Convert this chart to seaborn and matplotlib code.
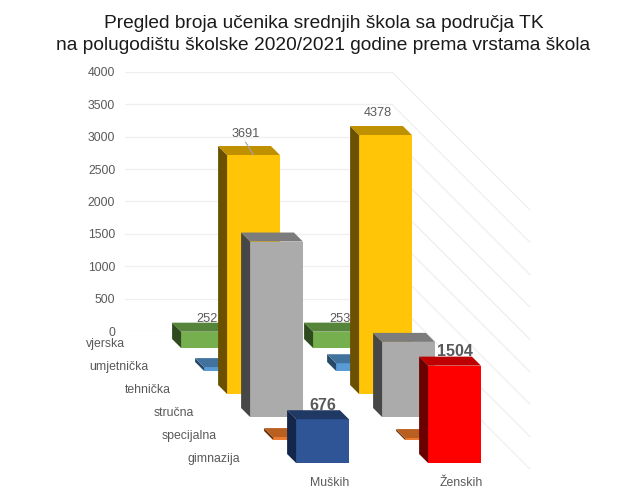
import matplotlib
matplotlib.use('Agg')
import matplotlib.pyplot as plt
import pandas as pd
import seaborn as sns
from matplotlib.lines import Line2D
from matplotlib.patches import Polygon

# values, rows go from the back to the front
groups = ['Muških', 'Ženskih']
categories = ['vjerska', 'umjetnička', 'tehnička', 'stručna', 'specijalna', 'gimnazija']
vjerska = [252, 253]
umjetnicka = [60, 120]
tehnicka = [3691, 4378]
strucna = [2710, 1160]
specijalna = [45, 30]
gimnazija = [676, 1504]
y_ticks = [0, 500, 1000, 1500, 2000, 2500, 3000, 3500, 4000]
title = 'Pregled broja učenika srednjih škola sa područja TK\nna polugodištu školske 2020/2021 godine prema vrstama škola'

# front / side / top colour per row and group
front_colors = [['#76B04E'] * 2, ['#5B9BD5'] * 2, ['#FFC506'] * 2, ['#ABABAB'] * 2, ['#ED7D31'] * 2, ['#2F5597', '#FF0000']]
side_colors = [['#2F4A1E'] * 2, ['#274A6B'] * 2, ['#6B5000'] * 2, ['#474747'] * 2, ['#6B3009'] * 2, ['#14264A', '#6B0000']]
top_colors = [['#56843A'] * 2, ['#41729E'] * 2, ['#BF9000'] * 2, ['#7C7C7C'] * 2, ['#B95F20'] * 2, ['#203864', '#BF0000']]
rows = [vjerska, umjetnicka, tehnicka, strucna, specijalna, gimnazija]

W, H = 627, 495
TEXT = '#595959'
GRID = '#EFEFEF'
ROW_STEP = 23   # px shift of a row towards the viewer
FIRST_ROW = 17
BAR_DEPTH = 9


def px_axes(fig, left, right, top, bottom, **kwargs):
    '''Axes from picture pixels (y measured from the top).'''
    return fig.add_axes([left / W, 1 - bottom / H, (right - left) / W, (bottom - top) / H], **kwargs)


def add_depth(fig, ax, side_cols, top_cols):
    '''Adds side and top faces to the bars seaborn just drew.'''
    ymax = ax.get_ylim()[1]
    to_fig = fig.transFigure.inverted()
    bars = sorted([p for p in ax.patches if p.get_width() > 0], key=lambda p: p.get_x())
    tops = []
    for i, bar in enumerate(bars):
        x0, x1 = bar.get_x(), bar.get_x() + bar.get_width()
        top = min(bar.get_height(), ymax)
        (lx, by), (rx, ty) = ax.transData.transform([(x0, 0), (x1, top)])
        side = [(lx, by), (lx, ty), (lx - BAR_DEPTH, ty + BAR_DEPTH), (lx - BAR_DEPTH, by + BAR_DEPTH)]
        roof = [(lx, ty), (rx, ty), (rx - BAR_DEPTH, ty + BAR_DEPTH), (lx - BAR_DEPTH, ty + BAR_DEPTH)]
        for pts, col in ((side, side_cols[i]), (roof, top_cols[i])):
            ax.add_patch(Polygon(to_fig.transform(pts), closed=True, facecolor=col, edgecolor='none',
                                 transform=fig.transFigure, clip_on=False))
        tops.append(((x0 + x1) / 2, top))
    return tops


sns.set_theme(style='white')
plt.rcParams['font.family'] = ['Liberation Sans', 'DejaVu Sans']

fig = plt.figure(figsize=(W / 100, H / 100), dpi=100)
fig.suptitle(title, fontsize=13.8, color='#1a1a1a', x=323.5 / W, y=1 - 15 / H, va='top', linespacing=1.4)

# back wall with the value axis
wall = px_axes(fig, 125, 392, 72, 331, zorder=0)
wall.set_xlim(0, 1)
wall.set_ylim(0, 4000)
wall.set_xticks([])
wall.set_yticks(y_ticks)
wall.set_yticklabels([str(v) for v in y_ticks], fontsize=8.8, color=TEXT)
wall.tick_params(axis='y', length=0, pad=7)
wall.grid(axis='y', color=GRID, linewidth=0.9)
sns.despine(ax=wall, left=True, bottom=True)

# side wall lines run down to the right from each gridline
wall_depth = FIRST_ROW + ROW_STEP * len(rows) - 17
to_fig = fig.transFigure.inverted()
for v in y_ticks:
    x, y = wall.transData.transform((1, v))
    start, end = to_fig.transform([(x, y), (x + wall_depth, y - wall_depth)])
    fig.add_artist(Line2D([start[0], end[0]], [start[1], end[1]], color=GRID, linewidth=0.9, zorder=0))

front_tops = {}
layers = []
for r, values in enumerate(rows):
    shift = FIRST_ROW + ROW_STEP * r
    ax = px_axes(fig, 124.5 + shift, 388.5 + shift, 72 + shift, 331 + shift, zorder=r + 1)
    ax.patch.set_alpha(0)
    df = pd.DataFrame({'group': groups, 'value': values})
    sns.barplot(data=df, x='group', y='value', hue='group', palette=front_colors[r], legend=False,
                width=0.4, ax=ax, saturation=1, edgecolor='none', linewidth=0)
    ax.set_xlim(-0.5, 1.5)
    ax.set_ylim(0, 4000)
    ax.axis('off')
    front_tops[r] = add_depth(fig, ax, side_colors[r], top_colors[r])
    ax.annotate(categories[r], xy=(0, 0), xycoords='axes fraction', xytext=(-16.5, 4), textcoords='offset pixels',
                ha='right', va='center', fontsize=8.8, color=TEXT, annotation_clip=False)
    layers.append(ax)

# data labels, 252/253 sit on the back row so the yellow bars cover them
for (x, top), v in zip(front_tops[0], vjerska):
    layers[0].annotate(str(v), xy=(x, top), xytext=(0, 13), textcoords='offset pixels', ha='center', va='center',
                       fontsize=9.2, color=TEXT, annotation_clip=False)
for (x, top), v in zip(front_tops[2], tehnicka):
    layers[2].annotate(str(v), xy=(x, top), xytext=(-8, 21.5), textcoords='offset pixels', ha='center', va='center',
                       fontsize=9.2, color=TEXT, annotation_clip=False)
# leader line of the first yellow bar
x, top = front_tops[2][0]
layers[2].annotate('', xy=(x, top), xytext=(-8, 13), textcoords='offset pixels', annotation_clip=False,
                   arrowprops=dict(arrowstyle='-', color='#A6A6A6', linewidth=0.8, shrinkA=0, shrinkB=0))
for (x, top), v in zip(front_tops[5], gimnazija):
    layers[5].annotate(str(v), xy=(x, top), xytext=(0, 14), textcoords='offset pixels', ha='center', va='center',
                       fontsize=11.5, fontweight='bold', color=TEXT, annotation_clip=False)

for i, g in enumerate(groups):
    layers[5].annotate(g, xy=(i, 0), xycoords=layers[5].get_xaxis_transform(), xytext=(7, -20),
                       textcoords='offset pixels', ha='center', va='center', fontsize=8.8, color=TEXT,
                       annotation_clip=False)

plt.savefig('out.png', dpi=100)
